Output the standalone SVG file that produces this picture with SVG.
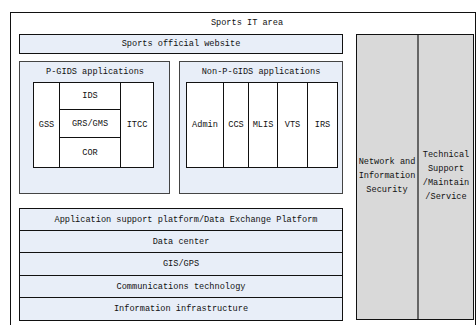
<svg xmlns="http://www.w3.org/2000/svg" width="476" height="325" viewBox="0 0 476 325">
<style>
.t text{font-family:'Liberation Mono','Courier New',monospace;font-size:8.6px;fill:#111;text-anchor:middle;dominant-baseline:central}
.panel{fill:#e8eef8;stroke:#444;stroke-width:1}
.cell{fill:#fff;stroke:#111;stroke-width:1}
.row{fill:#e8eef8;stroke:#111;stroke-width:1}
.gray{fill:#d9d9d9;stroke:#111;stroke-width:1}
</style>
<rect width="476" height="325" fill="#fff"/>
<g class="t">
<g id="outer">
<rect x="10.5" y="12.5" width="465" height="330" fill="#fff" stroke="#111"/>
<text x="247" y="23">Sports IT area</text>
</g>
<g id="website">
<rect class="row" x="19.5" y="34.5" width="323" height="19"/>
<text x="181" y="44">Sports official website</text>
</g>
<g id="pgids">
<rect class="panel" x="19.5" y="61.5" width="150" height="132"/>
<text x="95" y="72">P-GIDS applications</text>
<g id="gss"><rect class="cell" x="33.5" y="82.5" width="26" height="85"/><text x="46.5" y="125">GSS</text></g>
<g id="ids"><rect class="cell" x="59.5" y="82.5" width="61" height="27"/><text x="90" y="96">IDS</text></g>
<g id="grs"><rect class="cell" x="59.5" y="109.5" width="61" height="28"/><text x="90" y="123.5">GRS/GMS</text></g>
<g id="cor"><rect class="cell" x="59.5" y="137.5" width="61" height="30"/><text x="90" y="152.5">COR</text></g>
<g id="itcc"><rect class="cell" x="120.5" y="82.5" width="33" height="85"/><text x="137" y="125">ITCC</text></g>
</g>
<g id="nonpgids">
<rect class="panel" x="179.5" y="61.5" width="163" height="132"/>
<text x="261" y="72">Non-P-GIDS applications</text>
<g id="admin"><rect class="cell" x="186.5" y="82.5" width="37" height="85"/><text x="205" y="125">Admin</text></g>
<g id="ccs"><rect class="cell" x="223.5" y="82.5" width="25" height="85"/><text x="236" y="125">CCS</text></g>
<g id="mlis"><rect class="cell" x="248.5" y="82.5" width="29" height="85"/><text x="263" y="125">MLIS</text></g>
<g id="vts"><rect class="cell" x="277.5" y="82.5" width="30" height="85"/><text x="292.5" y="125">VTS</text></g>
<g id="irs"><rect class="cell" x="307.5" y="82.5" width="30" height="85"/><text x="322.5" y="125">IRS</text></g>
</g>
<g id="stack">
<g id="asp"><rect class="row" x="19.5" y="208.5" width="323" height="22"/><text x="186" y="219.5">Application support platform/Data Exchange Platform</text></g>
<g id="dc"><rect class="row" x="19.5" y="230.5" width="323" height="22"/><text x="181" y="241.5">Data center</text></g>
<g id="gis"><rect class="row" x="19.5" y="252.5" width="323" height="23"/><text x="181" y="264">GIS/GPS</text></g>
<g id="comm"><rect class="row" x="19.5" y="275.5" width="323" height="22"/><text x="181" y="286.5">Communications technology</text></g>
<g id="infra"><rect class="row" x="19.5" y="297.5" width="323" height="23"/><text x="181" y="309">Information infrastructure</text></g>
</g>
<g id="side">
<rect class="gray" x="356.5" y="34.5" width="117" height="285"/>
<line x1="418" y1="35" x2="418" y2="319" stroke="#666" stroke-width="2"/>
<g id="security"><text x="387" y="162">Network and</text><text x="387" y="176">Information</text><text x="387" y="190">Security</text></g>
<g id="support"><text x="446" y="155">Technical</text><text x="446" y="169">Support</text><text x="446" y="183">/Maintain</text><text x="446" y="197">/Service</text></g>
</g>
</g>
<g id="connectors"></g>
</svg>
